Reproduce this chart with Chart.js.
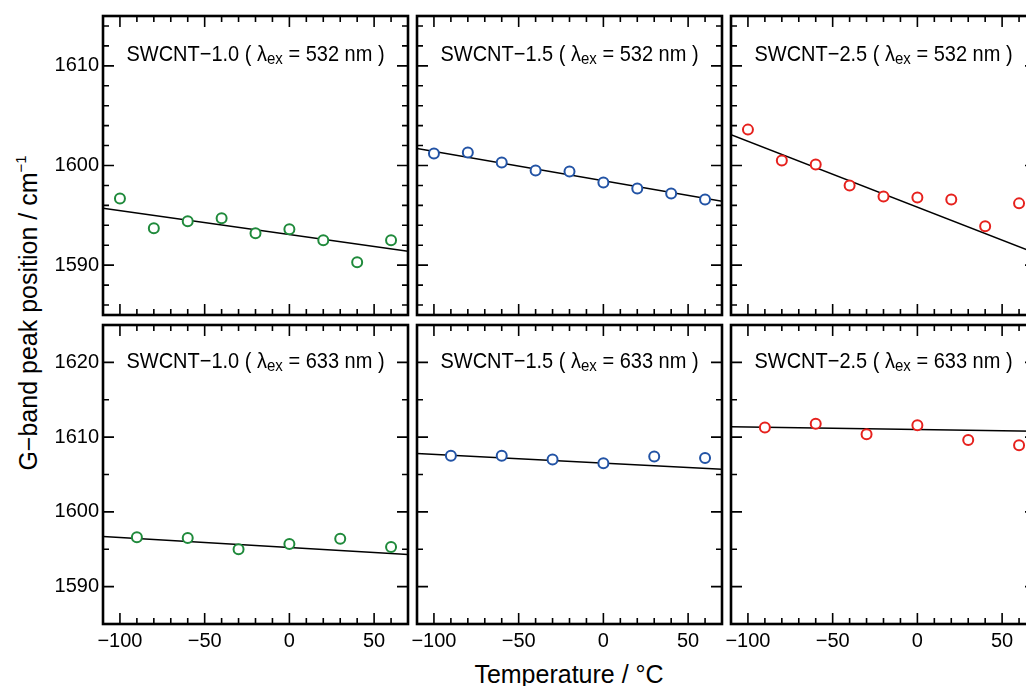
<!DOCTYPE html>
<html lang="en">
<head>
    <meta charset="UTF-8">
    <title>G-band peak position vs temperature</title>
    <script src="https://cdn.jsdelivr.net/npm/chart.js"></script>
    <style>
        html, body { margin: 0; padding: 0; background: #fff; overflow: hidden; }
        body {
            width: 1026px;
            height: 686px;
            position: relative;
            font-family: "Liberation Sans", Arial, sans-serif;
        }
        canvas { position: absolute; }
        .axis-title {
            position: absolute;
            font-size: 25px;
            line-height: 1;
            color: #000;
            white-space: nowrap;
        }
        #x-title { left: 569px; top: 662px; transform: translateX(-50%); }
        #y-title { left: 28px; top: 313px; transform: translate(-50%, -50%) rotate(-90deg); }
        .axis-title sup { font-size: 15px; position: relative; top: -11px; vertical-align: baseline; }
    </style>
</head>
<body>
    <div id="x-title" class="axis-title">Temperature / °C</div>
    <div id="y-title" class="axis-title">G−band peak position / cm<sup>−1</sup></div>

    <script>
        // temperatures (°C)
        const TEMPS_532 = [-100, -80, -60, -40, -20, 0, 20, 40, 60];
        const TEMPS_633 = [-90, -60, -30, 0, 30, 60];

        // G-band peak positions (cm-1)
        const G_10_532 = [1596.7, 1593.7, 1594.4, 1594.7, 1593.2, 1593.6, 1592.5, 1590.3, 1592.5];
        const G_15_532 = [1601.2, 1601.3, 1600.3, 1599.5, 1599.4, 1598.3, 1597.7, 1597.2, 1596.6];
        const G_25_532 = [1603.6, 1600.5, 1600.1, 1598.0, 1596.9, 1596.8, 1596.6, 1593.9, 1596.2];
        const G_10_633 = [1596.6, 1596.5, 1595.0, 1595.7, 1596.4, 1595.3];
        const G_15_633 = [1607.5, 1607.5, 1607.0, 1606.5, 1607.4, 1607.2];
        const G_25_633 = [1611.3, 1611.8, 1610.4, 1611.6, 1609.6, 1608.9];

        // fitted lines, read at both ends of the x range
        const FIT_T = [-110, 70];
        const FIT_10_532 = [1595.7, 1591.4];
        const FIT_15_532 = [1601.7, 1596.4];
        const FIT_25_532 = [1603.1, 1591.2];
        const FIT_10_633 = [1596.7, 1594.3];
        const FIT_15_633 = [1607.8, 1605.7];
        const FIT_25_633 = [1611.4, 1610.8];

        // axes
        const X_RANGE = [-110, 70];
        const X_TICKS = [-100, -50, 0, 50];
        const Y_RANGE_532 = [1585, 1615];
        const Y_TICKS_532 = [1590, 1600, 1610];
        const Y_RANGE_633 = [1585, 1625];
        const Y_TICKS_633 = [1590, 1600, 1610, 1620];

        const SAMPLES = ["SWCNT−1.0", "SWCNT−1.5", "SWCNT−2.5"];
        const WAVELENGTHS = ["532", "633"];
        const COLORS = ["#1f8a3b", "#2253a5", "#e6211d"];

        // layout of the frames on the page
        const COL_LEFT = [103, 417, 731];
        const ROW_TOP = [16, 325];
        const FRAME_W = 305, FRAME_H = 299;
        const PAD_L = 100, PAD_T = 16, PAD_R = 12, PAD_B = 40;
        const FONT = '"Liberation Sans", Arial, sans-serif';

        const minus = v => (v < 0 ? "\u2212" + Math.abs(v) : String(v));

        // frame, inward ticks on four sides and panel caption
        const framePlugin = {
            id: "frame",
            afterDraw(chart, args, opts) {
                const { ctx, chartArea: a, scales: { x, y } } = chart;
                ctx.save();
                ctx.strokeStyle = "#000";
                ctx.lineWidth = 1.6;
                ctx.beginPath();
                for (let v = -100; v < X_RANGE[1]; v += 10) {
                    const px = x.getPixelForValue(v);
                    const len = v % 50 === 0 ? 11 : 6;
                    ctx.moveTo(px, a.bottom); ctx.lineTo(px, a.bottom - len);
                    ctx.moveTo(px, a.top); ctx.lineTo(px, a.top + len);
                }
                const step = opts.minorStep;
                for (let v = Math.ceil((y.min + 0.001) / step) * step; v < y.max; v += step) {
                    const py = y.getPixelForValue(v);
                    const len = v % 10 === 0 ? 11 : 6;
                    ctx.moveTo(a.left, py); ctx.lineTo(a.left + len, py);
                    ctx.moveTo(a.right, py); ctx.lineTo(a.right - len, py);
                }
                ctx.stroke();
                ctx.lineWidth = 2.6;
                ctx.strokeRect(a.left, a.top, a.right - a.left, a.bottom - a.top);

                // caption: SWCNT-x ( λex = nnn nm ), slightly tall like the original
                const big = "20px " + FONT, small = "15px " + FONT;
                const p1 = opts.sample + " ( \u03bb", p2 = "ex", p3 = " = " + opts.wl + " nm )";
                ctx.font = big; const w1 = ctx.measureText(p1).width, w3 = ctx.measureText(p3).width;
                ctx.font = small; const w2 = ctx.measureText(p2).width;
                let tx = (a.left + a.right) / 2 - (w1 + w2 + w3) / 2;
                const ty = a.top + opts.captionY;
                ctx.fillStyle = "#000";
                ctx.textBaseline = "alphabetic";
                ctx.textAlign = "left";
                ctx.translate(0, ty);
                ctx.scale(1, 1.1);
                ctx.font = big; ctx.fillText(p1, tx, 0); tx += w1;
                ctx.font = small; ctx.fillText(p2, tx, 3); tx += w2;
                ctx.font = big; ctx.fillText(p3, tx, 0);
                ctx.restore();
            }
        };

        const panels = [
            { row: 0, col: 0, temps: TEMPS_532, values: G_10_532, fit: FIT_10_532 },
            { row: 0, col: 1, temps: TEMPS_532, values: G_15_532, fit: FIT_15_532 },
            { row: 0, col: 2, temps: TEMPS_532, values: G_25_532, fit: FIT_25_532 },
            { row: 1, col: 0, temps: TEMPS_633, values: G_10_633, fit: FIT_10_633 },
            { row: 1, col: 1, temps: TEMPS_633, values: G_15_633, fit: FIT_15_633 },
            { row: 1, col: 2, temps: TEMPS_633, values: G_25_633, fit: FIT_25_633 }
        ];

        panels.forEach(p => {
            const canvas = document.createElement("canvas");
            canvas.width = PAD_L + FRAME_W + PAD_R;
            canvas.height = PAD_T + FRAME_H + PAD_B;
            canvas.style.left = (COL_LEFT[p.col] - PAD_L) + "px";
            canvas.style.top = (ROW_TOP[p.row] - PAD_T) + "px";
            document.body.appendChild(canvas);

            const yRange = p.row === 0 ? Y_RANGE_532 : Y_RANGE_633;
            const yTicks = p.row === 0 ? Y_TICKS_532 : Y_TICKS_633;

            new Chart(canvas, {
                type: "scatter",
                data: {
                    datasets: [
                        {
                            data: p.temps.map((t, i) => ({ x: t, y: p.values[i] })),
                            pointStyle: "circle",
                            pointRadius: 5,
                            borderWidth: 2,
                            borderColor: COLORS[p.col],
                            backgroundColor: "#fff",
                            order: 0
                        },
                        {
                            data: FIT_T.map((t, i) => ({ x: t, y: p.fit[i] })),
                            showLine: true,
                            borderColor: "#000",
                            borderWidth: 1.5,
                            pointRadius: 0,
                            order: 1
                        }
                    ]
                },
                options: {
                    responsive: false,
                    animation: false,
                    events: [],
                    layout: { padding: { top: PAD_T, right: PAD_R, left: 0, bottom: 0 } },
                    plugins: {
                        legend: { display: false },
                        tooltip: { enabled: false },
                        frame: {
                            sample: SAMPLES[p.col],
                            wl: WAVELENGTHS[p.row],
                            minorStep: p.row === 0 ? 2 : 5,
                            captionY: p.row === 0 ? 45 : 43
                        }
                    },
                    scales: {
                        x: {
                            type: "linear",
                            min: X_RANGE[0],
                            max: X_RANGE[1],
                            afterBuildTicks: s => { s.ticks = X_TICKS.map(v => ({ value: v })); },
                            afterFit: s => { s.height = PAD_B; },
                            grid: { display: false, drawTicks: false },
                            border: { display: false },
                            ticks: {
                                display: p.row === 1,
                                autoSkip: false,
                                maxRotation: 0,
                                padding: 5,
                                color: "#000",
                                font: { size: 20, family: FONT },
                                callback: v => minus(v)
                            }
                        },
                        y: {
                            type: "linear",
                            min: yRange[0],
                            max: yRange[1],
                            afterBuildTicks: s => { s.ticks = yTicks.map(v => ({ value: v })); },
                            afterFit: s => { s.width = PAD_L; },
                            grid: { display: false, drawTicks: false },
                            border: { display: false },
                            ticks: {
                                display: p.col === 0,
                                autoSkip: false,
                                padding: 4,
                                color: "#000",
                                font: { size: 20, family: FONT },
                                callback: v => String(v)
                            }
                        }
                    }
                },
                plugins: [framePlugin]
            });
        });
    </script>
</body>
</html>
